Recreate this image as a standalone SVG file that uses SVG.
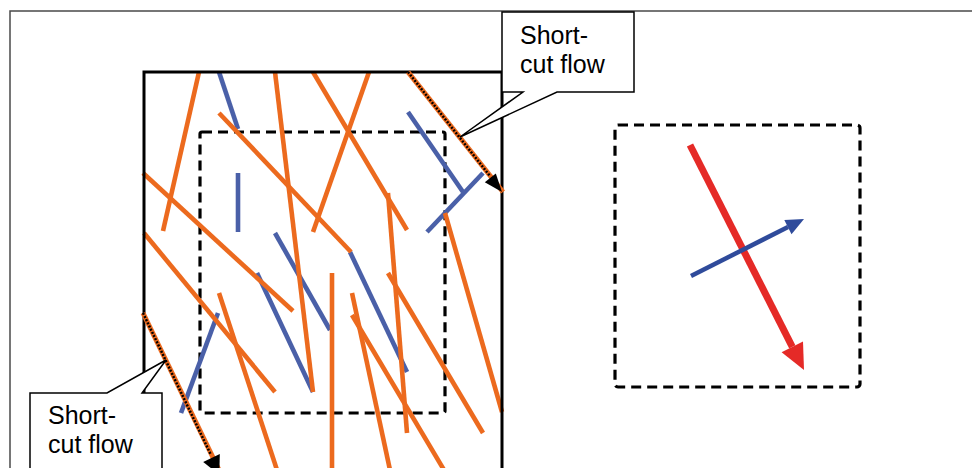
<svg xmlns="http://www.w3.org/2000/svg" width="972" height="468" viewBox="0 0 972 468">
<style>
.o{stroke:#EC6A1E;stroke-width:4.6;fill:none}
.b{stroke:#4A60A8;stroke-width:4.6;fill:none}
.dash{fill:none;stroke:#000;stroke-width:3.2;stroke-dasharray:10 6}
.so{stroke:#EC6A1E;stroke-width:5;fill:none}
.sd{stroke:#000;stroke-width:2.5;stroke-dasharray:2 1.5;fill:none}
.cl{fill:#fff;stroke:#000;stroke-width:1.5}
.t{font-family:"Liberation Sans",Arial,sans-serif;font-size:25px;fill:#000}
</style>
<rect width="972" height="468" fill="#fff"/>
<g id="frame"><path d="M10,480 V11 H980" fill="none" stroke="#4a4a4a" stroke-width="1.5"/></g>
<g id="inner-region"><rect x="200" y="132" width="245" height="281" rx="2" class="dash"/></g>
<g id="detail-region"><rect x="615" y="125" width="245" height="262" rx="3" class="dash"/></g>
<g id="fibers">
<line class="b" x1="219" y1="72" x2="238" y2="129"/>
<line class="b" x1="350" y1="252" x2="407" y2="372"/>
<line class="b" x1="238" y1="173" x2="238" y2="232"/>
<line class="b" x1="275" y1="233" x2="330" y2="330"/>
<line class="b" x1="257" y1="273" x2="313" y2="392"/>
<line class="b" x1="218" y1="313" x2="181" y2="413"/>
<line class="b" x1="408" y1="112" x2="463" y2="192"/>
<line class="b" x1="483" y1="173" x2="427" y2="232"/>
<line class="o" x1="199" y1="72" x2="163" y2="231"/>
<line class="o" x1="219" y1="113" x2="351" y2="252"/>
<line class="o" x1="275" y1="72" x2="313" y2="392"/>
<line class="o" x1="313" y1="72" x2="407" y2="230"/>
<line class="o" x1="369" y1="72" x2="313" y2="232"/>
<line class="o" x1="143" y1="173" x2="293" y2="311"/>
<line class="o" x1="144" y1="233" x2="275" y2="392"/>
<line class="o" x1="219" y1="293" x2="277" y2="470"/>
<line class="o" x1="332" y1="273" x2="332" y2="470"/>
<line class="o" x1="352" y1="293" x2="390" y2="470"/>
<line class="o" x1="352" y1="315" x2="444" y2="470"/>
<line class="o" x1="388" y1="193" x2="407" y2="433"/>
<line class="o" x1="388" y1="273" x2="483" y2="433"/>
<line class="o" x1="445" y1="213" x2="502" y2="412"/>
</g>
<g id="main-region"><path d="M144,480 V72 H502 V480" fill="none" stroke="#000" stroke-width="3"/></g>
<g id="shortcut-top">
<line class="so" x1="408" y1="72" x2="503" y2="192"/>
<line class="sd" x1="408" y1="72" x2="490" y2="176"/>
<polygon points="502,192 484.8,182.2 495.8,173.5" fill="#000"/>
</g>
<g id="shortcut-bottom">
<line class="so" x1="143" y1="313" x2="220" y2="472"/>
<line class="sd" x1="143" y1="313" x2="211" y2="455"/>
<polygon points="219.3,474.7 203.2,462 219.8,454" fill="#000"/>
</g>
<g id="callout-top">
<path class="cl" d="M502,12 H634 V92 H557 L460,137 L523,92 H502 Z"/>
<text class="t" x="520" y="44">Short-</text>
<text class="t" x="520" y="73">cut flow</text>
</g>
<g id="callout-bottom">
<path class="cl" d="M30,480 V393 H107 L166,360 L142,393 H162 V480"/>
<text class="t" x="48" y="424">Short-</text>
<text class="t" x="48" y="453">cut flow</text>
</g>
<g id="connectors">
<line x1="690" y1="145" x2="792.3" y2="346.8" stroke="#E52A27" stroke-width="7"/>
<polygon points="804,370 781.6,352.2 803,341.4" fill="#E52A27"/>
<line x1="691" y1="276" x2="788" y2="227" stroke="#2F4B9B" stroke-width="4.5"/>
<polygon points="804,219 791.5,234.2 784.3,220" fill="#2F4B9B"/>
</g>
</svg>
